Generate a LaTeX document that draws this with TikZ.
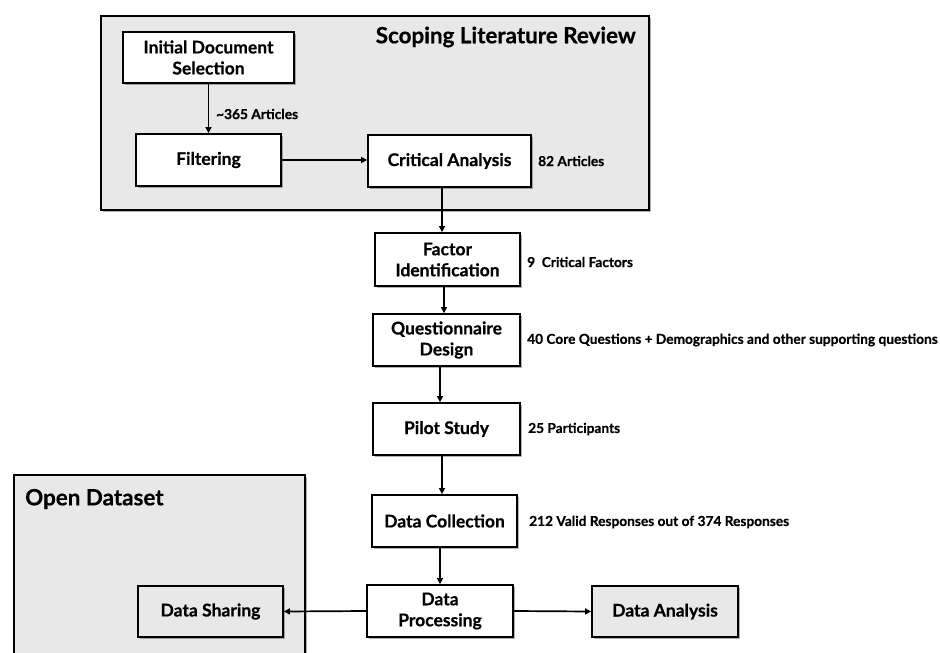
\documentclass[tikz,border=0pt]{standalone}
\usepackage{fontspec}
\setmainfont{Lato}[UprightFont=* Bold,FakeBold=0.5]
\usetikzlibrary{arrows.meta,shadows}
\definecolor{panelgray}{HTML}{E8E8E8}
\begin{document}
\begin{tikzpicture}[x=1pt,y=-1pt,
  shd/.style={drop shadow={shadow xshift=1.8pt,shadow yshift=-1.8pt,opacity=0.3,fill=black}},
  stepbox/.style={draw=black,line width=1.8pt,fill=white,shd,align=center,inner sep=0pt,
     font=\fontsize{17.5}{21}\selectfont},
  graybox/.style={stepbox,fill=panelgray},
  panel/.style={draw=black,line width=1.8pt,fill=panelgray,shd},
  arr/.style={line width=1.7pt,-{Triangle[length=6pt,width=6pt]}},
  lbl/.style={anchor=west,inner sep=0pt,font=\fontsize{13.7}{16}\selectfont},
  hdr/.style={inner sep=0pt,font=\fontsize{22.4}{26}\selectfont}]
\clip (0,0) rectangle (940,653);
\fill[white] (0,0) rectangle (940,653);
% panels
\path[panel] (101,16) rectangle (649,210);
\path[panel] (14,475) rectangle (305,680);
\node[hdr,anchor=east] (title1) at (636,37) {Scoping Literature Review};
\node[hdr,anchor=west] (title2) at (25,499) {Open Dataset};
% boxes
\node[stepbox,minimum width=171,minimum height=51] (init) at (208.5,57.5) {Initial Document\\Selection};
\node[stepbox,minimum width=145,minimum height=52] (filt) at (208.5,160) {Filtering};
\node[stepbox,minimum width=163,minimum height=52] (crit) at (449.5,161) {Critical Analysis};
\node[stepbox,minimum width=145,minimum height=53] (fact) at (447.5,259.5) {Factor\\Identification};
\node[stepbox,minimum width=147,minimum height=52] (quest) at (446.5,340) {Questionnaire\\Design};
\node[stepbox,minimum width=147,minimum height=52] (pilot) at (446.5,429) {Pilot Study};
\node[stepbox,minimum width=145,minimum height=52] (dc) at (444.5,521) {Data Collection};
\node[stepbox,minimum width=146,minimum height=52] (dp) at (440,611) {Data\\Processing};
\node[graybox,minimum width=145,minimum height=51] (ds) at (210.5,611.5) {Data Sharing};
\node[graybox,minimum width=146,minimum height=51] (da) at (665,611.5) {Data Analysis};
% connectors
\draw[arr] (init.south) -- (filt.north);
\draw[arr] (filt.east) -- (filt.east -| crit.west);
\draw[arr] (crit.south -| 442,0) -- (fact.north -| 442,0);
\draw[arr] (fact.south -| 444,0) -- (quest.north -| 444,0);
\draw[arr] (quest.south -| 440,0) -- (pilot.north -| 440,0);
\draw[arr] (pilot.south -| 442,0) -- (dc.north -| 442,0);
\draw[arr] (dc.south -| 440,0) -- (dp.north -| 440,0);
\draw[arr] (dp.west) -- (ds.east);
\draw[arr] (dp.east) -- (da.west);
% labels
\node[lbl] (l1) at (216,114) {\textasciitilde365 Articles};
\node[lbl] (l2) at (538,161) {82 Articles};
\node[lbl] (l3) at (527,262) {9\ \ Critical Factors};
\node[lbl] (l4) at (527,340) {40 Core Questions + Demographics and other supporting questions};
\node[lbl] (l5) at (528,429) {25 Participants};
\node[lbl] (l6) at (529,522) {212 Valid Responses out of 374 Responses};
\end{tikzpicture}
\end{document}
